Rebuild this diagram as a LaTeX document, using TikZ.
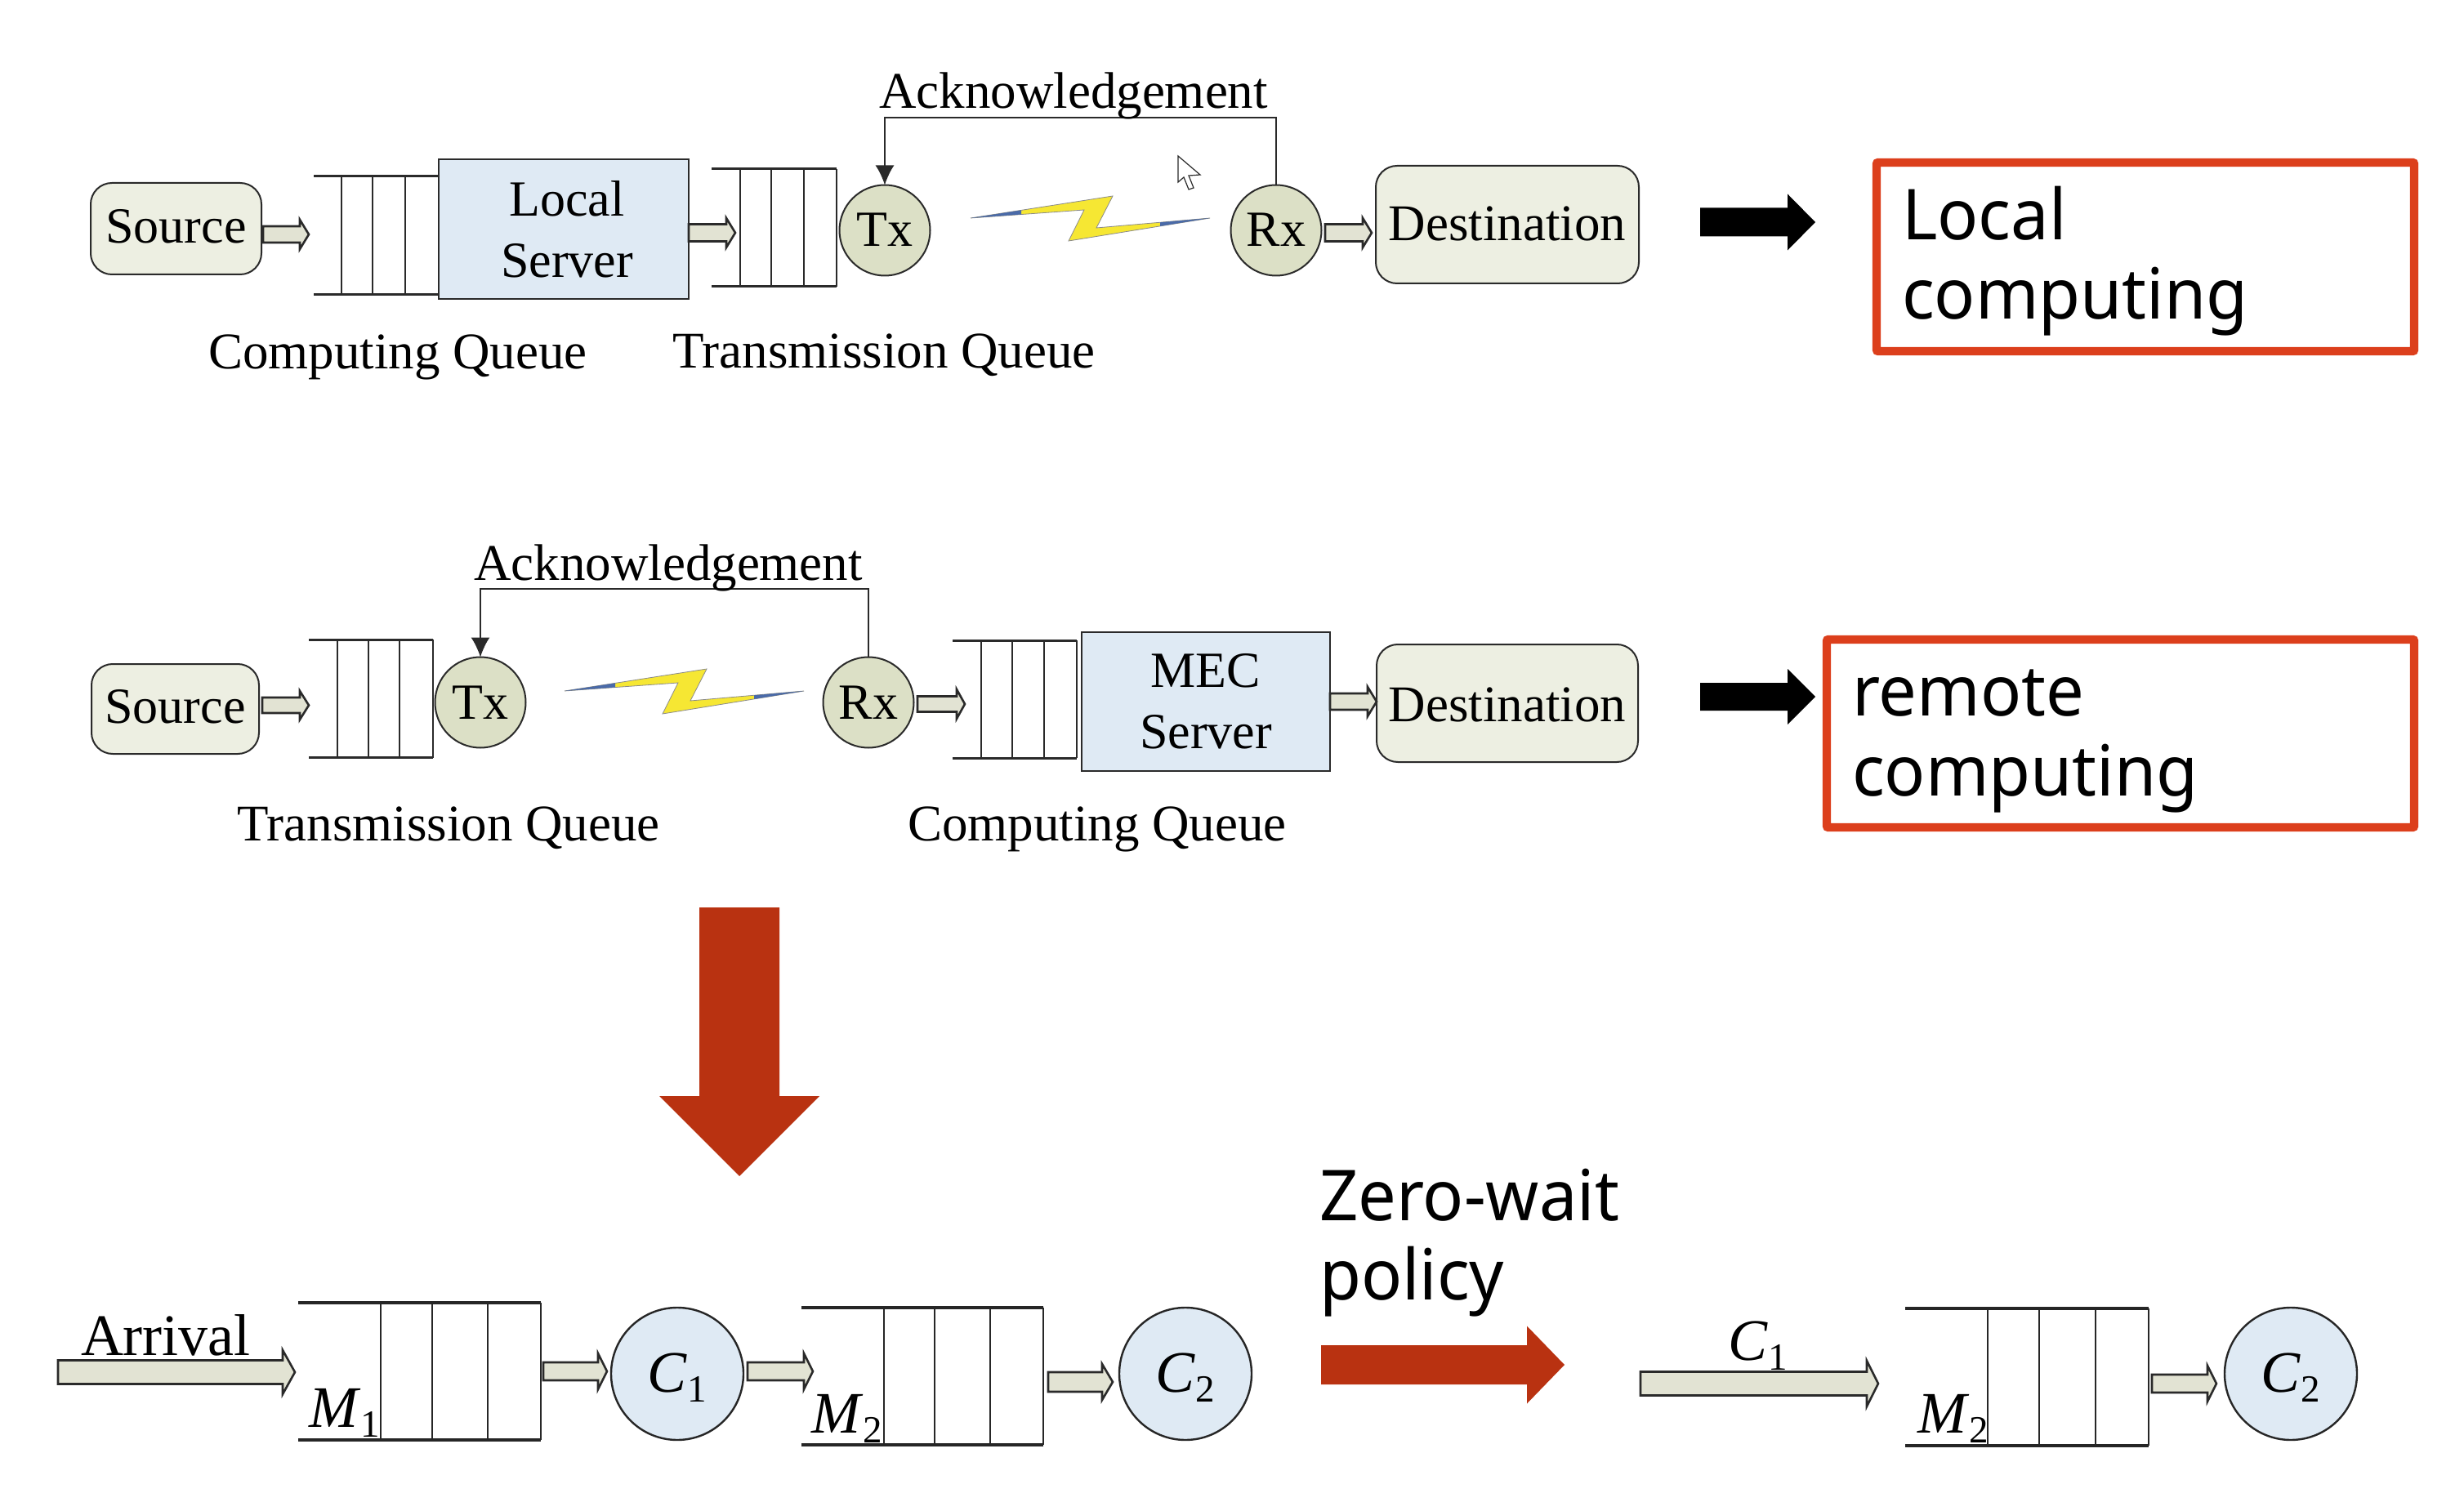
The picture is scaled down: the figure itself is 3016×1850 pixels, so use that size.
\documentclass[tikz,border=0pt]{standalone}
\usepackage{fontspec}
\setmainfont{Liberation Serif}
\newfontfamily\uifont[FakeStretch=0.965]{Noto Sans}
\usetikzlibrary{arrows.meta}
\definecolor{srcfill}{HTML}{EDEFE2}
\definecolor{txfill}{HTML}{DCE0C6}
\definecolor{srvfill}{HTML}{DFEAF4}
\definecolor{arrfill}{HTML}{E2E3D3}
\definecolor{redline}{HTML}{DC3F1C}
\definecolor{darkred}{HTML}{B93211}
\definecolor{boltfill}{HTML}{F6E733}
\definecolor{boltblue}{HTML}{4A6AA8}
\definecolor{ink}{HTML}{2A2A2A}
\newcommand{\fsz}[1]{\fontsize{#1}{#1}\selectfont}
\newcommand{\csub}[2]{\textit{#1}\raisebox{-6pt}{\fontsize{23.5}{23.5}\selectfont #2}}
% x0, x1, xhead, yc, half shaft, half head
\newcommand{\blockarr}[6]{\draw[blockarrow] (#1,{#4-#5}) -- (#3,{#4-#5}) -- (#3,{#4-#6}) -- (#2,#4) -- (#3,{#4+#6}) -- (#3,{#4+#5}) -- (#1,{#4+#5}) -- cycle;}
\newcommand{\solidarr}[7]{\fill[#7] (#1,{#4-#5}) -- (#3,{#4-#5}) -- (#3,{#4-#6}) -- (#2,#4) -- (#3,{#4+#6}) -- (#3,{#4+#5}) -- (#1,{#4+#5}) -- cycle;}
% x0, x1, ytop, ybot, v1, v2, v3
\newcommand{\queuerails}[7]{\draw[rail] (#1,#3) -- (#2,#3); \draw[rail] (#1,#4) -- (#2,#4);
  \draw[wall] (#5,#3) -- (#5,#4); \draw[wall] (#6,#3) -- (#6,#4); \draw[wall] (#7,#3) -- (#7,#4);}
\newcommand{\bolt}[1]{\begin{scope}[shift={#1}]
  \filldraw[fill=boltfill,draw=ink!55,line width=0.4pt] (1188,265) -- (1362,238) -- (1342,277) -- (1481,265) -- (1308,293) -- (1327,255) -- cycle;
  \fill[boltblue] (1188,265) -- (1250,255.4) -- (1250,260.5) -- cycle;
  \fill[boltblue] (1481,265) -- (1420,270.3) -- (1420,274.9) -- cycle;
\end{scope}}
\tikzset{
  nodebase/.style={inner sep=0pt,outer sep=0pt,text depth=0pt,text height=#1},
  srcbox/.style={draw=ink,line width=1pt,fill=srcfill,rounded corners=13pt,inner sep=0pt,outer sep=0pt,font=\fsz{31}},
  srvbox/.style={draw=ink,line width=1.2pt,fill=srvfill,inner sep=0pt,outer sep=0pt,align=center,font=\fontsize{31}{37.5}\selectfont},
  radio/.style={circle,draw=ink,line width=1pt,fill=txfill,minimum size=55.5pt,inner sep=0pt,outer sep=0pt,font=\fsz{31}},
  server/.style={circle,draw=black!85,line width=1.2pt,fill=srvfill,minimum size=81pt,inner sep=0pt,outer sep=0pt,font=\fsz{36}},
  lbl/.style={anchor=base,inner sep=0pt,outer sep=0pt,font=\fsz{31.5}},
  mlbl/.style={anchor=base west,inner sep=0pt,outer sep=0pt,font=\fsz{36}},
  ui/.style={anchor=north west,inner sep=0pt,outer sep=0pt,align=left,font=\uifont\fontsize{43}{48.7}\selectfont},
  redbox/.style={draw=redline,line width=5.2pt,rounded corners=1pt,inner sep=0pt,outer sep=0pt},
  rail/.style={draw=ink,line width=1.5pt},
  wall/.style={draw=ink,line width=0.9pt},
  blockarrow/.style={draw=ink,line width=1.3pt,fill=arrfill,line join=miter},
  ack/.style={draw=ink,line width=1pt,-{Latex[length=12pt,width=11.5pt]}}
}
\begin{document}
\begin{tikzpicture}[x=0.5pt,y=-0.5pt]
\useasboundingbox (0,0) rectangle (3016,1850);
\fill[white] (0,0) rectangle (3016,1850);

\begin{scope}[shift={(0,2)}]
% ---------- row 1 ----------
\node[srcbox,minimum width=104.5pt,minimum height=56pt,nodebase=17.5pt] (src1) at (215.5,278) {Source};
\node[srvbox,minimum width=153pt,minimum height=85.5pt] (srv1) at (690,278.5) {\hspace*{4pt}Local\\\hspace*{4pt}Server};
\queuerails{384}{537}{214}{359}{418}{456}{496}
\queuerails{871}{1024}{205}{349}{906}{944}{984}
\draw[wall] (1024,205) -- (1024,349);
\node[radio,nodebase=20pt] (tx1) at (1083,280) {Tx};
\node[radio,nodebase=20pt] (rx1) at (1562,280) {Rx};
\node[srcbox,minimum width=161pt,minimum height=72pt,nodebase=20pt,font=\fsz{31.5}] (dst1) at (1845,273) {Destination};
\blockarr{322}{378}{367}{285}{10}{18}
\blockarr{843}{900}{889}{283}{10.5}{18}
\blockarr{1622}{1679}{1668}{283}{10.5}{18}
\draw[ack] (rx1.north) -- ++(0,-82) -| (tx1.north);
\node[lbl] (ack1) at (1314,131) {Acknowledgement};
\bolt{(0,0)}
\node[lbl] (cq1) at (487,450) {Computing Queue};
\node[lbl] (tq1) at (1082,449) {Transmission Queue};
\filldraw[fill=white,draw=ink,line width=0.6pt] (1442,189) -- (1442,221) -- (1449,215) -- (1455,230) -- (1461,228) -- (1455,213) -- (1469,212) -- cycle;

% ---------- row 2 ----------
\node[srcbox,minimum width=102.5pt,minimum height=55pt,nodebase=17.5pt] (src2) at (214.5,866) {Source};
\queuerails{378}{530}{781}{925.5}{413}{451}{489}
\draw[wall] (530,781) -- (530,925.5);
\node[radio,nodebase=20pt] (tx2) at (588,858) {Tx};
\node[radio,nodebase=20pt] (rx2) at (1063,858) {Rx};
\queuerails{1166}{1318}{782}{926}{1201}{1239}{1278}
\draw[wall] (1318,782) -- (1318,926);
\node[srvbox,minimum width=152pt,minimum height=85pt] (srv2) at (1476,857) {MEC\\Server};
\node[srcbox,minimum width=160pt,minimum height=72pt,nodebase=22pt,font=\fsz{31.5}] (dst2) at (1845,859) {Destination};
\blockarr{321}{378}{367}{861.5}{9.5}{17.5}
\blockarr{1123}{1181}{1171}{860}{9.5}{18}
\blockarr{1628}{1685}{1674}{857}{10}{18}
\draw[ack] (rx2.north) -- ++(0,-83) -| (tx2.north);
\node[lbl] (ack2) at (818,709) {Acknowledgement};
\bolt{(-497,579)}
\node[lbl] (tq2) at (549,1027) {Transmission Queue};
\node[lbl] (cq2) at (1343,1027) {Computing Queue};

% ---------- row 3 ----------
\blockarr{71}{361}{346}{1678}{14.5}{27}
\node[mlbl] (arr) at (99,1657) {Arrival};
\tikzset{rail/.style={draw=black!85,line width=1.7pt},wall/.style={draw=black!85,line width=1pt}}
\queuerails{365}{662}{1593}{1761}{466}{528.5}{597}
\draw[wall] (662,1593) -- (662,1761);
\node[mlbl] (m1) at (378,1745) {\csub{M}{1}};
\blockarr{665}{743}{732}{1677}{11}{22}
\node[server,nodebase=22pt] (c1) at (829,1680) {\csub{C}{1}};
\blockarr{915}{995}{984}{1677}{11}{22}
\queuerails{981}{1277}{1599}{1767}{1082}{1144}{1212}
\draw[wall] (1277,1599) -- (1277,1767);
\node[mlbl] (m2) at (993,1752) {\csub{M}{2}};
\blockarr{1283}{1362}{1349}{1690}{12}{22}
\node[server,nodebase=22pt] (c2) at (1451,1680) {\csub{C}{2}};
\blockarr{2008}{2299}{2285}{1692}{14.5}{28}
\node[mlbl,anchor=base] (c1b) at (2152,1663) {\csub{C}{1}};
\queuerails{2332}{2630}{1600}{1768}{2433}{2496}{2565}
\draw[wall] (2630,1600) -- (2630,1768);
\node[mlbl] (m3) at (2347,1752) {\csub{M}{2}};
\blockarr{2634}{2713}{2702}{1692}{11}{22}
\node[server,nodebase=22pt] (c3) at (2804,1680) {\csub{C}{2}};
\end{scope}

% ---------- outcomes ----------
\solidarr{2081}{2222}{2188}{272}{17.5}{34.5}{black}
\node[redbox,minimum width=329pt,minimum height=115.5pt] (res1) at (2626,314.5) {};
\node[ui] (rest1) at (2328,228) {Local\\computing};
\solidarr{2081}{2222}{2188}{853}{17}{34}{black}
\node[redbox,minimum width=359.5pt,minimum height=115pt] (res2) at (2595.5,898) {};
\node[ui] (rest2) at (2267,820) {remote\\computing};

% ---------- big arrows ----------
\fill[darkred] (856,1111) -- (954,1111) -- (954,1342) -- (1003,1342) -- (905,1440) -- (807,1342) -- (856,1342) -- cycle;
\node[ui] (zw) at (1615,1431) {Zero-wait\\policy};
\solidarr{1617}{1915}{1869}{1671}{24}{47.5}{darkred}
\end{tikzpicture}
\end{document}
